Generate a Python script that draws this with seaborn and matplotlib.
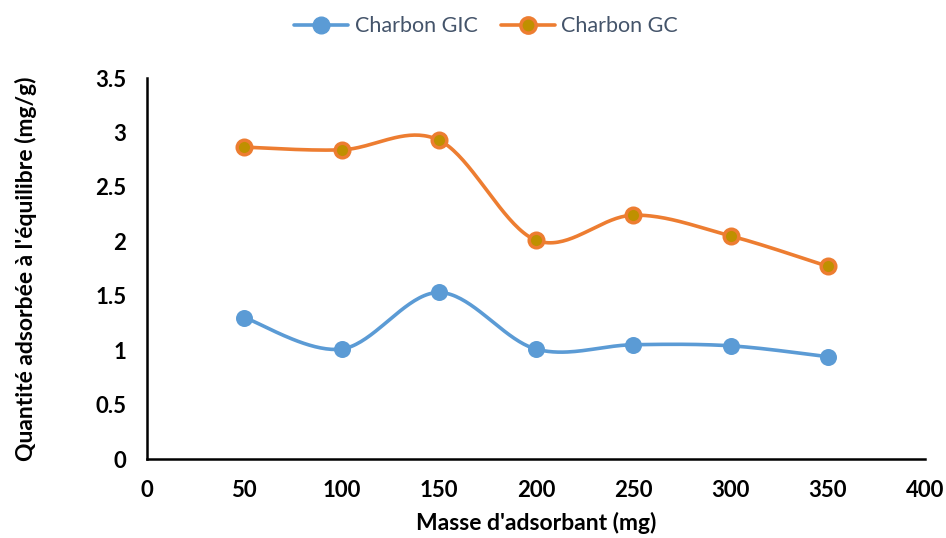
import numpy as np
import pandas as pd
import matplotlib
matplotlib.use("Agg")
import matplotlib.pyplot as plt
import seaborn as sns
from matplotlib.lines import Line2D

# Adsorbent mass (mg) and equilibrium adsorbed quantity (mg/g)
masse = [50, 100, 150, 200, 250, 300, 350]
gic = [1.30, 1.01, 1.53, 1.01, 1.05, 1.04, 0.94]
gc = [2.865, 2.84, 2.93, 2.01, 2.24, 2.05, 1.77]
series_names = ["Charbon GIC", "Charbon GC"]
x_ticks = [0, 50, 100, 150, 200, 250, 300, 350, 400]
y_ticks = [0, 0.5, 1, 1.5, 2, 2.5, 3, 3.5]

blue = "#5B9BD5"
orange = "#ED7D31"
gold = "#BF9000"


def smooth(xs, ys, n=40):
    """Cubic Bezier smoothing through every point (Catmull-Rom style)."""
    xs = np.asarray(xs, float)
    ys = np.asarray(ys, float)
    pts = np.column_stack([xs, ys])
    out = []
    for i in range(len(pts) - 1):
        p0 = pts[i - 1] if i > 0 else pts[i]
        p1 = pts[i]
        p2 = pts[i + 1]
        p3 = pts[i + 2] if i + 2 < len(pts) else pts[i + 1]
        c1 = p1 + (p2 - p0) / 6.0
        c2 = p2 - (p3 - p1) / 6.0
        t = np.linspace(0, 1, n, endpoint=(i == len(pts) - 2))[:, None]
        seg = ((1 - t) ** 3) * p1 + 3 * ((1 - t) ** 2) * t * c1 + 3 * (1 - t) * t ** 2 * c2 + t ** 3 * p2
        out.append(seg)
    arr = np.vstack(out)
    return arr[:, 0], arr[:, 1]


sns.set_theme(style="white")
plt.rcParams["font.family"] = ["Lato", "DejaVu Sans"]

fig = plt.figure(figsize=(9.46, 5.38), dpi=100)
ax = fig.add_axes([0.1554, 0.1468, 0.8224, 0.7082])

frames = []
for name, vals in zip(series_names, [gic, gc]):
    sx, sy = smooth(masse, vals)
    frames.append(pd.DataFrame({"x": sx, "y": sy, "serie": name}))
curve = pd.concat(frames, ignore_index=True)
points = pd.DataFrame({
    "x": masse * 2,
    "y": gic + gc,
    "serie": [series_names[0]] * len(masse) + [series_names[1]] * len(masse),
})

palette = {series_names[0]: blue, series_names[1]: orange}
sns.lineplot(data=curve, x="x", y="y", hue="serie", palette=palette,
             linewidth=2.6, sort=False, estimator=None, legend=False, ax=ax)
sns.scatterplot(data=points[points.serie == series_names[0]], x="x", y="y",
                color=blue, s=150, edgecolor=blue, linewidth=0, legend=False, ax=ax, zorder=3)
sns.scatterplot(data=points[points.serie == series_names[1]], x="x", y="y",
                color=gold, s=110, edgecolor=orange, linewidth=2.5, legend=False, ax=ax, zorder=3)

ax.set_xlim(0, 400)
ax.set_ylim(0, 3.5)
ax.set_xticks(x_ticks)
ax.set_yticks(y_ticks)
ax.set_xticklabels([str(v) for v in x_ticks])
ax.set_yticklabels([f"{v:g}" for v in y_ticks])
ax.tick_params(axis="both", length=0, labelsize=16, colors="black")
ax.tick_params(axis="x", pad=15)
ax.tick_params(axis="y", pad=15)
for lab in ax.get_xticklabels() + ax.get_yticklabels():
    lab.set_fontweight("bold")

for side in ["top", "right"]:
    ax.spines[side].set_visible(False)
for side in ["left", "bottom"]:
    ax.spines[side].set_color("black")
    ax.spines[side].set_linewidth(1.8)

ax.set_xlabel("Masse d'adsorbant (mg)", fontsize=16.5, fontweight="bold",
              labelpad=8, color="black")
ax.set_ylabel("Quantité adsorbée à l'équilibre (mg/g)", fontsize=16.5,
              fontweight="bold", labelpad=42, color="black")

handles = [
    Line2D([0], [0], color=blue, lw=2.6, marker="o", markersize=12,
           markerfacecolor=blue, markeredgecolor=blue),
    Line2D([0], [0], color=orange, lw=2.6, marker="o", markersize=11,
           markerfacecolor=gold, markeredgecolor=orange, markeredgewidth=2.5),
]
fig.legend(handles, series_names, loc="center", bbox_to_anchor=(0.514, 0.951),
           ncol=2, frameon=False, fontsize=15.5, handlelength=2.5,
           columnspacing=1.1, handletextpad=0.3, labelcolor="#44546A")

fig.savefig("out.png", dpi=100)
